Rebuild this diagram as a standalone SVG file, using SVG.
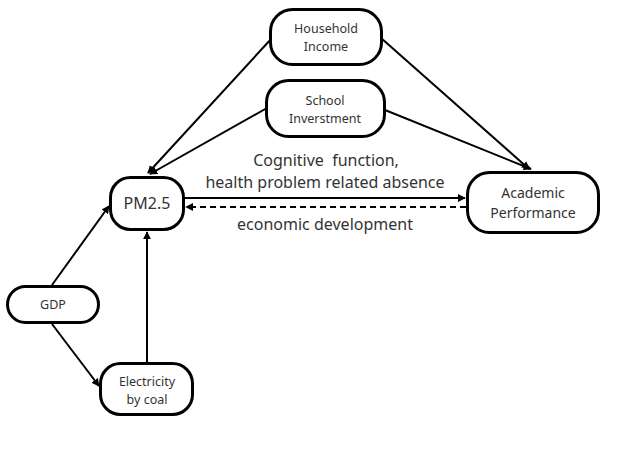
<svg xmlns="http://www.w3.org/2000/svg" width="629" height="458" viewBox="0 0 629 458">
<style>
.n{fill:#fff;stroke:#000;stroke-width:3}
.t{font-family:"Noto Sans","Open Sans",sans-serif;font-size:12.5px;fill:#333;text-anchor:middle;white-space:pre}
.b{font-size:16px}
.m{font-size:14px}
.c{stroke:#000;stroke-width:2;fill:none}
.d{stroke-dasharray:6 4}
</style>
<defs>
<marker id="a" viewBox="0 0 10 10" refX="9" refY="5" markerWidth="4" markerHeight="4" orient="auto" markerUnits="strokeWidth">
<path d="M0,0L10,5L0,10z" fill="#000"/>
</marker>
</defs>
<rect width="629" height="458" fill="#fff"/>
<g id="connectors">
<line class="c" x1="272" y1="38" x2="148" y2="173" marker-end="url(#a)"/>
<line class="c" x1="267" y1="108" x2="150" y2="174" marker-end="url(#a)"/>
<line class="c" x1="381" y1="38" x2="529" y2="169" marker-end="url(#a)"/>
<line class="c" x1="385" y1="110" x2="531" y2="169" marker-end="url(#a)"/>
<line class="c" x1="184" y1="198" x2="465" y2="198" marker-end="url(#a)"/>
<line class="c d" x1="466" y1="207" x2="186" y2="207" marker-end="url(#a)"/>
<line class="c" x1="52" y1="285" x2="109" y2="206" marker-end="url(#a)"/>
<line class="c" x1="52" y1="324" x2="99" y2="386" marker-end="url(#a)"/>
<line class="c" x1="147" y1="362" x2="147" y2="232" marker-end="url(#a)"/>
</g>
<g id="labels">
<text class="t b" x="326" y="166" xml:space="preserve">Cognitive  function,</text>
<text class="t b" x="325" y="188">health problem related absence</text>
<text class="t b" x="325" y="230">economic development</text>
</g>
<g id="household">
<rect class="n" x="270.5" y="9.5" width="111" height="55" rx="22"/>
<text class="t" x="326" y="33">Household</text>
<text class="t" x="326" y="51">Income</text>
</g>
<g id="school">
<rect class="n" x="266.5" y="80.5" width="118" height="56" rx="22"/>
<text class="t" x="325" y="105">School</text>
<text class="t" x="325" y="123">Inverstment</text>
</g>
<g id="pm25">
<rect class="n" x="110.5" y="177.5" width="73" height="52" rx="20"/>
<text class="t b" x="147" y="209">PM2.5</text>
</g>
<g id="academic">
<rect class="n" x="467.5" y="172.5" width="131" height="60" rx="22"/>
<text class="t m" x="533" y="198">Academic</text>
<text class="t m" x="533" y="218">Performance</text>
</g>
<g id="gdp">
<rect class="n" x="7.5" y="286.5" width="91" height="36" rx="18"/>
<text class="t" x="53" y="309">GDP</text>
</g>
<g id="electricity">
<rect class="n" x="100.5" y="363.5" width="92" height="51" rx="20"/>
<text class="t" x="147" y="386">Electricity</text>
<text class="t" x="147" y="404">by coal</text>
</g>
</svg>
